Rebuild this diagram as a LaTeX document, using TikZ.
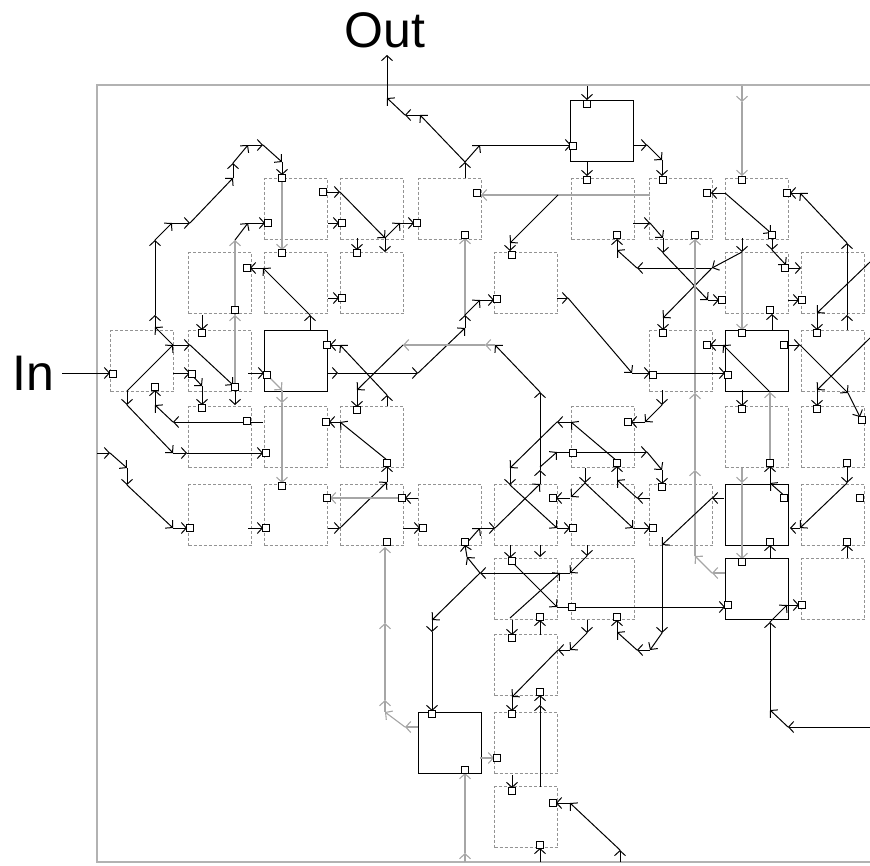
\documentclass[tikz,border=0pt]{standalone}
\usepackage{fontspec}
\setmainfont{Liberation Sans}
\usetikzlibrary{arrows.meta, decorations.pathreplacing}

\tikzset{
  cell/.style={rectangle, draw=gray!85, densely dashed, line width=1pt,
    minimum width=63pt, minimum height=61pt, inner sep=0pt, anchor=north west},
  cellon/.style={cell, draw=black, solid, line width=1.3pt},
  port/.style={rectangle, draw=black, fill=white, line width=.8pt,
    minimum size=7pt, inner sep=0pt},
  chev/.style={-{Straight Barb[length=5pt,width=11pt]}},
  seg/.style={decorate, decoration={show path construction,
    lineto code={\draw[#1] (\tikzinputsegmentfirst) -- (\tikzinputsegmentlast);}}},
  wire/.style={seg={gray!70, line width=1.1pt, chev}},
  live/.style={seg={black, line width=1pt, chev}},
  frame/.style={draw=gray!60, line width=2.6pt},
  lab/.style={font=\fontsize{50}{50}\selectfont, anchor=base, inner sep=2pt},
}

\begin{document}
\begin{tikzpicture}[x=1pt, y=-1pt]
  \useasboundingbox (0,0) rectangle (870,865);

  % frame of the array
  \draw[frame] (870,85) -- (97,85) -- (97,862) -- (870,862);

  % labels
  \node[lab] (inlab) at (33,390) {In};
  \node[lab] (outlab) at (385,47) {Out};
  \coordinate (inpin) at (62,373);
  \coordinate (outpin) at (387,55);

  % cells (top left corner, name)
  \foreach \x/\y/\n in {264/178/c21, 340/178/c31, 418/178/c41, 571/178/c61, 649/178/c71, 725/178/c81,
      188/252/c12, 264/252/c22, 340/252/c32, 494/252/c52, 725/252/c82, 801/252/c92,
      110/330/c03, 188/330/c13, 649/330/c73, 801/330/c93,
      188/406/c14, 264/406/c24, 340/406/c34, 571/406/c64, 725/406/c84, 801/406/c94,
      188/484/c15, 264/484/c25, 340/484/c35, 418/484/c45, 494/484/c55, 571/484/c65, 649/484/c75, 801/484/c95,
      494/558/c56, 571/558/c66, 801/558/c96,
      494/634/c57, 494/712/c58, 494/786/c59}
    \node[cell] (\n) at (\x,\y) {};
  % configured cells
  \foreach \x/\y/\n in {570/100/c60, 264/330/c23, 725/330/c83, 725/484/c85, 725/558/c86, 418/712/c48}
    \node[cellon] (\n) at (\x,\y) {};

  % top: output and row 0
  \path[live] (465,178) -- (465,162) -- (420,115) -- (405,115) -- (387,98) -- (outpin);
  \path[live] (465,162) -- (480,145) -- (571,145);
  \path[live] (587,86) -- (587,100);
  \path[live] (587,162) -- (587,176);
  \path[live] (633,145) -- (647,145) -- (662,160) -- (662,176);
  \path[wire] (650,195) -- (481,195);
  \path[live] (558,195) -- (510,243) -- (510,251);
  \path[wire] (742,86) -- (742,102) -- (742,176);
  \path[live] (725,193) -- (711,193);
  \path[live] (725,193) -- (771,233);
  \path[live] (772,238) -- (772,250) -- (786,265);
  \path[live] (788,268) -- (801,268);
  \path[live] (847,330) -- (847,315) -- (847,243) -- (800,193) -- (790,193);
  \path[live] (870,262) -- (817,313) -- (817,330);
  \path[live] (788,300) -- (799,300);
  \path[live] (772,330) -- (772,314);
  \path[wire] (742,252) -- (742,330);
  \path[live] (742,238) -- (742,252) -- (712,268) -- (663,318) -- (663,330);
  \path[live] (712,268) -- (637,268) -- (617,250) -- (617,239);
  \path[live] (633,223) -- (650,223) -- (663,238) -- (663,253) -- (708,300) -- (719,300);
  \path[wire] (725,573) -- (712,573) -- (695,556) -- (695,470) -- (695,393) -- (695,239);

  % top left
  \path[live] (173,345) -- (155,327) -- (155,315) -- (155,240) -- (172,223) -- (190,223) -- (233,178)
    -- (233,163) -- (248,145) -- (263,145) -- (282,162) -- (282,175);
  \path[wire] (282,182) -- (282,250);
  \path[wire] (235,386) -- (235,315) -- (235,240);
  \path[live] (235,240) -- (248,223) -- (265,223);
  \path[live] (326,192) -- (340,192) -- (385,238) -- (400,223) -- (414,223);
  \path[live] (385,238) -- (385,252);
  \path[live] (328,223) -- (339,223);
  \path[live] (328,298) -- (339,298);
  \path[live] (310,330) -- (310,315) -- (263,268) -- (250,268);
  \path[live] (357,238) -- (357,250);
  \path[live] (202,315) -- (202,330);

  % left
  \path[live] (inpin) -- (110,373);
  \path[live] (127,391) -- (173,345) -- (190,345) -- (233,385);
  \path[live] (235,390) -- (235,405);
  \path[live] (173,373) -- (190,373) -- (202,386) -- (202,405);
  \path[live] (127,391) -- (127,405) -- (173,453) -- (187,453) -- (263,453);
  \path[live] (263,422) -- (173,422) -- (155,405) -- (155,390);
  \path[live] (248,373) -- (264,373);
  \path[live] (97,453) -- (110,453) -- (127,468) -- (127,485) -- (173,528) -- (187,528);
  \path[live] (248,528) -- (263,528);
  \path[wire] (267,375) -- (282,390) -- (282,403) -- (282,483);

  % centre
  \path[live] (328,373) -- (338,373) -- (418,373) -- (465,328) -- (465,315);
  \path[wire] (465,315) -- (465,238);
  \path[live] (465,315) -- (480,300) -- (494,300);
  \path[live] (465,545) -- (480,528) -- (495,528) -- (540,484) -- (540,470) -- (540,392) -- (495,345);
  \path[wire] (495,345) -- (485,345) -- (403,345);
  \path[live] (403,345) -- (357,390) -- (357,407);
  \path[live] (387,406) -- (387,395) -- (340,345) -- (330,345);
  \path[live] (328,528) -- (340,528) -- (387,482) -- (387,466);
  \path[live] (387,460) -- (340,422) -- (329,422);
  \path[live] (418,498) -- (405,498);
  \path[wire] (400,498) -- (330,498);
  \path[live] (403,528) -- (420,528);
  \path[wire] (418,727) -- (405,727) -- (385,712) -- (385,700) -- (385,623) -- (385,547);
  \path[live] (480,573) -- (467,557) -- (465,545);
  \path[live] (587,545) -- (587,556) -- (570,573) -- (480,573) -- (432,620) -- (432,632) -- (432,711);
  \path[live] (510,618) -- (560,573);
  \path[live] (510,545) -- (510,558);
  \path[live] (512,562) -- (557,607) -- (725,607);
  \path[live] (617,461) -- (571,422) -- (557,422) -- (510,468) -- (510,485) -- (557,528) -- (570,528);
  \path[live] (570,498) -- (556,498);
  \path[live] (540,545) -- (540,557);
  \path[live] (540,467) -- (557,452) -- (647,452) -- (662,470) -- (662,484);
  \path[live] (557,298) -- (568,298) -- (632,373) -- (650,373) -- (725,373);

  % right
  \path[live] (787,498) -- (770,483) -- (770,466);
  \path[wire] (770,460) -- (770,392);
  \path[live] (770,392) -- (723,345) -- (710,345);
  \path[live] (787,345) -- (800,345) -- (848,393) -- (860,417);
  \path[live] (870,338) -- (817,390) -- (817,406);
  \path[live] (742,390) -- (742,406);
  \path[live] (650,498) -- (637,498) -- (617,480) -- (617,466);
  \path[live] (662,390) -- (662,405) -- (645,422) -- (631,422);
  \path[live] (585,468) -- (585,483) -- (633,528) -- (650,528);
  \path[live] (585,483) -- (571,497);
  \path[live] (724,498) -- (712,498) -- (662,545) -- (662,633) -- (650,650) -- (637,650) -- (617,632) -- (617,620);
  \path[wire] (742,468) -- (742,483) -- (742,559);
  \path[live] (770,558) -- (770,545);
  \path[live] (847,465) -- (847,483) -- (800,528) -- (790,528);
  \path[live] (847,558) -- (847,545);
  \path[live] (870,727) -- (788,727) -- (770,710) -- (770,622) -- (787,605) -- (799,605);

  % bottom
  \path[live] (540,635) -- (540,620);
  \path[live] (512,620) -- (512,635);
  \path[live] (587,620) -- (587,633) -- (570,650) -- (558,650) -- (512,697) -- (512,711);
  \path[live] (540,787) -- (540,705) -- (540,695);
  \path[wire] (480,758) -- (494,758);
  \path[wire] (465,862) -- (465,853) -- (465,773);
  \path[live] (512,775) -- (512,788);
  \path[live] (620,862) -- (620,850) -- (570,803) -- (556,803);
  \path[live] (540,862) -- (540,848);

  % ports
  \foreach \x/\y [count=\i] in {113/374, 155/387, 202/333, 192/374, 235/387, 202/408, 247/421, 190/528,
      267/375, 327/345, 282/178, 268/223, 323/192, 342/223, 247/268, 235/310, 282/253, 357/253, 342/298,
      266/453, 326/422, 266/528, 282/486, 327/498, 357/410, 387/463, 402/498, 387/542, 423/528, 465/542,
      477/193, 417/223, 465/235, 512/255, 497/299, 587/104, 573/146, 587/180, 617/235,
      663/180, 707/193, 695/235, 742/180, 787/193, 772/235, 722/300, 785/268, 770/310, 802/300,
      663/333, 653/375, 707/345, 742/333, 728/375, 784/345, 817/333,
      573/453, 628/422, 617/463, 742/409, 770/463, 817/409, 847/463, 862/420,
      553/498, 573/528, 662/487, 653/528, 784/498, 770/542, 860/498, 847/542,
      512/561, 540/617, 572/607, 617/617, 742/562, 728/605, 802/605,
      512/638, 540/692, 432/714, 465/770, 512/714, 497/758, 512/791, 553/803, 540/845}
    \node[port] (p\i) at (\x,\y) {};
\end{tikzpicture}
\end{document}
